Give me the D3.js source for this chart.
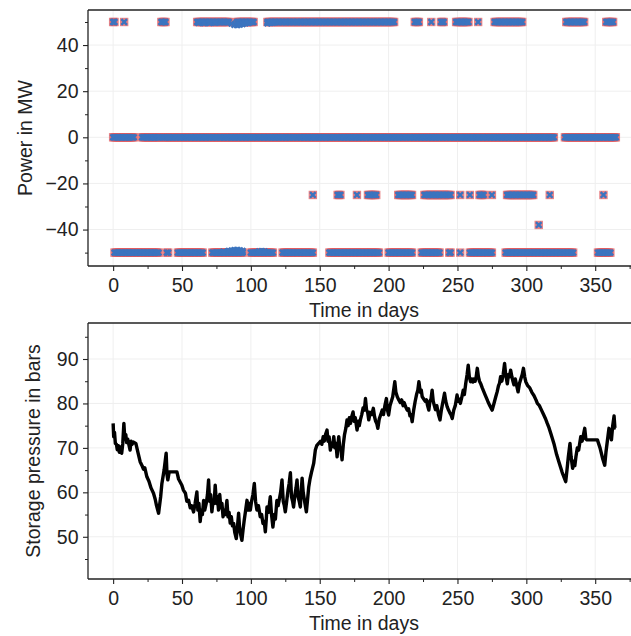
<!DOCTYPE html>
<html>
<head>
<meta charset="utf-8">
<script src="https://cdn.jsdelivr.net/npm/d3@7"></script>
<style>
  html, body { margin: 0; padding: 0; background: #fff; }
  svg { display: block; }
  text { font-family: "Liberation Sans", Arial, Helvetica, sans-serif; fill: #222; }
</style>
</head>
<body>
<svg id="chart" width="631" height="636"></svg>
<script>
// ---------------- DATA ----------------
// Power schedule: runs of days [start, end] at each power level (MW)
const powerLevels = [50, 0, -25, -38, -50];
const runs50  = [[0,1],[8,8],[35,38],[61,84],[90,102],[112,204],[219,222],[231,231],[238,240],[249,258],[265,265],[277,297],[329,342],[358,363]];
const runs0   = [[0,15],[21,34],[36,320],[328,365]];
const runsM25 = [[145,145],[163,165],[177,177],[185,191],[207,217],[226,245],[252,252],[259,259],[266,269],[275,275],[286,305],[317,317],[356,356]];
const runsM38 = [[309,309]];
const runsM50 = [[1,33],[39,40],[47,65],[72,94],[100,116],[123,145],[157,193],[200,217],[224,237],[244,245],[252,252],[259,275],[285,334],[352,361]];
// Realised power where it deviates from the schedule [day, MW]
const blueDeviations = [[62,49.6],[66,49.5],[70,49.6],[74,49.7],[86,49.3],[88,48.8],[90,48.6],[92,48.9],[94,49.1],[96,49.4],[98,49.6],[112,49.4],[114,49.6],[116,49.7],
  [80,-49.6],[84,-49.3],[86,-49.1],[88,-48.9],[90,-48.8],[92,-49.0],[94,-49.3],[106,-49.5],[108,-49.4],[110,-49.5]];

// Storage pressure [day, bar]
const pressure = [[0,75.5],[0.4,72.5],[1,73.5],[1.6,71],[2.4,70.8],[3,69.6],[3.8,70.5],[4.5,69],[5.3,70.2],[6.2,68.8],[7,71],[7.8,75.5],
  [8.5,72],[9.2,73],[9.8,71.2],[10.6,72],[11.5,70.6],[12.3,69.5],[13,71.5],[13.8,70.8],[14.6,71.3],[16.5,71],
  [18,69],[19.6,66.9],[21,66],[22,65.2],[23,65.5],[24.5,63.5],[26,62.5],[27.5,61],[29.3,59.8],[30.5,58.5],[31.5,57],[33,55.3],
  [34.5,59],[35.4,62],[37,65],[38.5,68.8],[39.1,64],[39.7,62.8],[40.7,64.6],[46.3,64.6],
  [47.5,63],[49.9,61.6],[51,60.5],[52.5,59.8],[53.5,58],[54.8,58.2],[56,56.5],[57,57],[58.4,55.6],[59.5,57.5],[60.8,60.1],[61.5,56],
  [62.3,57.5],[63.2,53.4],[64,56],[64.8,55],[65.7,58.2],[66.5,56],[67.6,57.5],[68.5,59.5],[69.3,62.8],[70,58],[70.8,59.5],[71.7,55.6],
  [72.5,58],[73.3,57.5],[74.1,61.6],[75,57.5],[75.8,59],[76.5,56],[77.4,59.5],[78.2,56.5],[79,57.5],[79.8,54.5],[80.7,56],[81.5,55],
  [82.6,58.2],[83.4,54.5],[84.2,55.5],[85,53.1],[85.8,54.5],[86.6,52.5],[87.5,53],[88.3,51],[89.4,49.6],[90.2,52],[91.1,55.3],
  [91.8,52],[92.6,50.5],[93.5,49.2],[94.3,51.5],[95.2,53.8],[96,55.5],[97.2,58.2],[98,56],[98.8,57.5],[99.6,56],[100.5,58],[101.5,59.5],
  [102.5,62],[103.4,58],[104.4,56],[105.5,57],[106.8,54.5],[107.8,55],[108.8,53],[109.7,53.5],[110.5,51.1],[111.2,54],[111.7,56.7],
  [112.8,55.5],[114.1,59],[115,55],[116,52.2],[117,55],[117.8,54],[118.9,58.2],[119.8,57],[120.7,58.5],[121.6,60],[122.6,62.8],
  [123.5,58],[124.3,57],[125,55.6],[126,58],[127,60.5],[127.8,62],[128.7,64.4],[129.5,59],[130.3,58],[131,56.7],[132,59.5],[132.8,61],
  [133.5,62.8],[134.3,59],[135.1,58],[135.9,56.7],[136.5,60],[137.2,63.2],[138,60],[139,58],[140.3,55.6],[141.2,58.5],[142,61.2],
  [143,63.1],[144,64.5],[145.6,66.5],[146.2,68],[146.8,69.5],[147.8,70.5],[149.2,71],[150.5,71.5],
  [151.5,70.8],[152.5,72.5],[153.3,71.5],[154.2,73],[155.3,74],[156,71.5],[156.8,72.5],[157.7,69.5],[158.5,71],[159.3,70.3],[160.2,72.5],
  [161,70],[161.8,71],[162.6,68],[163.2,70.5],[163.8,72.5],[164.6,70],[165.4,69.5],[166.2,67.3],[167.2,71],[168,73],[169,74.5],
  [169.8,76.3],[170.6,75],[171.5,76.8],[172.3,75.5],[173.2,77],[174.2,78.1],[175,76],[175.8,76.8],[177.1,74],[178,76],[178.7,75],
  [179.5,76.3],[180.5,77.5],[181.5,79],[182.4,78.5],[183.2,81.1],[184,78.5],[184.8,78],[185.6,76.3],[186.6,78],[187.8,77.5],[188.9,78.9],
  [189.8,77],[190.6,76],[191.4,75.5],[192.2,74.4],[193.2,76.5],[194.3,77.5],[195.4,78.5],[196.3,77.5],[197.3,79.5],[198.4,81.1],
  [199.2,78.5],[200,77.4],[201,79.5],[202,80.5],[203,81.5],[204.5,84.9],[205.3,82.5],[206.3,81.5],[207.4,80.8],[208.5,80.2],[209.5,80.8],
  [210.5,79.5],[211.3,80.2],[212.3,79.3],[213.5,78.5],[214.5,78.8],[215.5,77.2],[216.3,77.5],[217.1,75.9],[218.2,78.5],[219.3,80.5],
  [220.3,82],[221.2,83],[222,84.9],[223,82.5],[223.7,83],[224.4,81.5],[225.5,81],[226.5,80.5],[227.5,80.8],[228.3,79.5],[229.2,78.5],
  [230,80.5],[230.8,81],[231.6,83],[232.4,80.5],[233.2,79.5],[234,78.6],[235,79.5],[236.2,77.5],[237.3,76.3],[238.3,78.5],[239.5,80.5],
  [240.6,82.3],[241.5,80.5],[242.5,79.3],[243.5,78.5],[244.3,78],[245.2,77.5],[246.2,76.6],[247.3,78.5],[248.4,79.5],[249.7,81.9],
  [250.5,80.5],[251.3,81],[252.1,80],[253.2,81.5],[254.2,83],[255,82],[256,84.5],[257,86.5],[257.8,88.6],[258.6,86],[259.5,84.9],
  [260.5,85.5],[261.2,84.8],[261.9,85.5],[262.8,85],[263.6,86],[264.4,87.9],[265.2,86],[266,85],[266.8,84.5],[268,83.5],[270,82],
  [272,80.5],[273.5,79.5],[275.2,78.5],[276.5,80],[277.8,81.5],[278.8,82.6],[279.8,84],[280.5,84.5],[281.3,86],[282.2,85],[283.2,86.5],
  [284.2,89],[285,86.5],[285.6,85.5],[286.2,84.4],[287,86.5],[287.8,86],[288.6,87.5],[289.5,86],[290.3,85],[291,84.2],[292,85.5],
  [293,84],[294,82.6],[295,84.5],[296,85.5],[297,86.5],[297.9,87.9],[298.8,86],[299.6,84.9],[301,84],[302.5,83.5],[304,82.5],[305.5,81.8],
  [307,80.8],[308,80],[309.5,79.5],[311,78.5],[312.5,77.5],[314,76.5],[315.2,75.5],[316.5,74.5],[318,73],[320,71],[322,68.5],[324,66.5],
  [326,64.5],[328.6,62.4],[329.5,65],[330.5,68],[331.7,71],[332.5,68],[333.6,65.4],[334.5,67],[335.2,66],[336,68],[337,70],[338,69.5],
  [339.5,72.5],[340.5,71.5],[341.5,73],[342.4,74.4],[343.2,72],[344,71.8],[351.6,71.8],[353.5,70],[355.5,67.5],[356.9,66.1],[357.8,69],
  [358.8,71.5],[360,74.4],[361,73],[361.8,71.8],[362.7,75],[363.7,77.2],[364.3,74.5],[365,74.4]];

const xTicks = [0, 50, 100, 150, 200, 250, 300, 350];
const xMinorTicks = [25, 75, 125, 175, 225, 275, 325, 375];
const powerTicks = [-40, -20, 0, 20, 40];
const powerMinorTicks = [-50, -30, -10, 10, 30, 50];
const pressureTicks = [50, 60, 70, 80, 90];
const pressureMinorTicks = [45, 55, 65, 75, 85, 95];

// ---------------- LAYOUT ----------------
const svg = d3.select("#chart");
const FS = 19.5;
const left = 88, right = 641;
const x = d3.scaleLinear().domain([-18.25, 383.25]).range([left, right]);
const yP = d3.scaleLinear().domain([-55.8, 55.2]).range([266, 10]);
const yS = d3.scaleLinear().domain([40.5, 98.1]).range([579, 323]);

function expand(runs, level) {
  const pts = [];
  runs.forEach(([a, b]) => { for (let d = a; d <= b; d += 1) pts.push([d, level]); });
  return pts;
}

function grid(y, yTicks) {
  const [y0, y1] = y.range();
  const g = svg.append("g");
  xTicks.forEach(t => g.append("line").attr("x1", x(t)).attr("x2", x(t)).attr("y1", y1).attr("y2", y0)
    .attr("stroke", "#efefef").attr("stroke-width", 1));
  yTicks.forEach(t => g.append("line").attr("x1", left).attr("x2", right).attr("y1", y(t)).attr("y2", y(t))
    .attr("stroke", "#efefef").attr("stroke-width", 1));
}

function axes(y, yTicks, yMinor, yLabel, yLabelX, fmt) {
  const [y0, y1] = y.range();
  const g = svg.append("g");
  g.append("line").attr("x1", left).attr("x2", right).attr("y1", y1).attr("y2", y1).attr("stroke", "#222").attr("stroke-width", 1.3);
  g.append("line").attr("x1", left).attr("x2", right).attr("y1", y0).attr("y2", y0).attr("stroke", "#222").attr("stroke-width", 1.3);
  g.append("line").attr("x1", left).attr("x2", left).attr("y1", y1).attr("y2", y0).attr("stroke", "#222").attr("stroke-width", 1.3);
  const xa = d3.axisBottom(x).tickValues(xTicks).tickSize(5).tickPadding(4).tickFormat(d3.format("d"));
  const gx = g.append("g").attr("transform", `translate(0,${y0})`).call(xa);
  gx.select(".domain").remove();
  gx.selectAll(".tick line").attr("stroke", "#222").attr("stroke-width", 1.1);
  gx.selectAll("text").attr("font-size", FS).attr("fill", "#222").attr("dy", null).attr("y", 26)
    .style("font-family", '"Liberation Sans", Arial, sans-serif');
  const xm = d3.axisBottom(x).tickValues(xMinorTicks).tickSize(3).tickFormat("");
  const gxm = g.append("g").attr("transform", `translate(0,${y0})`).call(xm);
  gxm.select(".domain").remove();
  gxm.selectAll(".tick line").attr("stroke", "#222").attr("stroke-width", 1);
  const ya = d3.axisLeft(y).tickValues(yTicks).tickSize(5).tickPadding(4.5).tickFormat(fmt);
  const gy = g.append("g").attr("transform", `translate(${left},0)`).call(ya);
  gy.select(".domain").remove();
  gy.selectAll(".tick line").attr("stroke", "#222").attr("stroke-width", 1.1);
  gy.selectAll("text").attr("font-size", FS).attr("fill", "#222")
    .style("font-family", '"Liberation Sans", Arial, sans-serif');
  const ym = d3.axisLeft(y).tickValues(yMinor).tickSize(3).tickFormat("");
  const gym = g.append("g").attr("transform", `translate(${left},0)`).call(ym);
  gym.select(".domain").remove();
  gym.selectAll(".tick line").attr("stroke", "#222").attr("stroke-width", 1);
  g.append("text").attr("x", (left + right) / 2 - 0.5).attr("y", y0 + 51).attr("text-anchor", "middle")
    .attr("font-size", FS).text("Time in days");
  g.append("text").attr("transform", `translate(${yLabelX},${(y0 + y1) / 2}) rotate(-90)`)
    .attr("text-anchor", "middle").attr("font-size", FS).text(yLabel);
}

const minusFmt = d => (d < 0 ? "\u2212" + Math.abs(d) : String(d));

// ---------- Top panel ----------
grid(yP, powerTicks);
const redPts = [].concat(expand(runs50, powerLevels[0]), expand(runs0, powerLevels[1]), expand(runsM25, powerLevels[2]),
  expand(runsM38, powerLevels[3]), expand(runsM50, powerLevels[4]));
const gTop = svg.append("g");
gTop.selectAll("rect.sq").data(redPts).join("rect").attr("class", "sq")
  .attr("x", d => x(d[0]) - 4.2).attr("y", d => yP(d[1]) - 4.2).attr("width", 8.4).attr("height", 8.4)
  .attr("fill", "#e2585c").attr("fill-opacity", 0.75);
const bluePts = redPts.concat(blueDeviations);
const xs = 2.8;
gTop.selectAll("path.xm").data(bluePts).join("path").attr("class", "xm")
  .attr("d", d => { const cx = x(d[0]), cy = yP(d[1]);
    return `M${cx - xs},${cy - xs}L${cx + xs},${cy + xs}M${cx - xs},${cy + xs}L${cx + xs},${cy - xs}`; })
  .attr("stroke", "#3b74bf").attr("stroke-width", 2.4).attr("fill", "none");
axes(yP, powerTicks, powerMinorTicks, "Power in MW", 32, minusFmt);

// ---------- Bottom panel ----------
grid(yS, pressureTicks);
svg.append("path").datum(pressure)
  .attr("d", d3.line().x(d => x(d[0])).y(d => yS(d[1])))
  .attr("fill", "none").attr("stroke", "#000").attr("stroke-width", 3.4).attr("stroke-linejoin", "round");
axes(yS, pressureTicks, pressureMinorTicks, "Storage pressure in bars", 40, d3.format("d"));
</script>
</body>
</html>
